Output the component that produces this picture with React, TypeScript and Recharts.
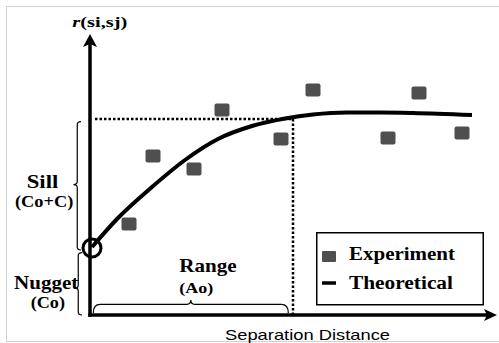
import React from 'react';
import {
  ComposedChart,
  XAxis,
  YAxis,
  Line,
  Scatter,
  ReferenceLine,
  ReferenceDot,
  ReferenceArea,
  Legend,
} from 'recharts';

// theoretical variogram curve (distance, gamma)
const curveDist = [2, 28, 62, 95, 128, 162, 195, 223, 257, 290, 323, 382];
const curveGamma = [68, 97, 128, 155, 176, 189, 196.5, 200.5, 202.5, 202.5, 202, 200];

// experimental variogram points
const expDist = [39, 63, 104, 132, 191, 223, 298, 329, 372];
const expGamma = [91, 159, 146, 205, 176, 225, 177, 222, 182];

// model parameters
const nugget = 67;
const sill = 196;
const range = 203;

// axis arrow tips
const xTip = 407;
const yTip = 281;

const curveData = curveDist.map((x, i) => ({ x, y: curveGamma[i] }));
const expData = expDist.map((x, i) => ({ x, y: expGamma[i] }));

const serif = '"Liberation Serif", "Times New Roman", serif';
const sans = '"Liberation Sans", Arial, sans-serif';
const squareFill = '#4f4f4f';

const square = (p: any) => (
  <rect x={p.cx - 7.5} y={p.cy - 6.5} width={15} height={13} rx={2} fill={squareFill} />
);

const upArrow = (p: any) => (
  <path
    d={`M${p.cx},${p.cy} L${p.cx + 7},${p.cy + 13} L${p.cx},${p.cy + 10} L${p.cx - 7},${p.cy + 13} Z`}
    fill="#000"
  />
);

const rightArrow = (p: any) => (
  <path
    d={`M${p.cx},${p.cy} L${p.cx - 13},${p.cy - 6} L${p.cx - 10},${p.cy} L${p.cx - 13},${p.cy + 6} Z`}
    fill="#000"
  />
);

// vertical curly brace, tip pointing left
const vBrace = (tipAt: number) => (p: any) => {
  const { x, y, width, height } = p;
  const sx = x + width / 2;
  const ex = x + width;
  const ty = y + height * tipAt;
  const r = 3;
  const b = y + height;
  const d =
    `M${ex},${y} Q${sx},${y} ${sx},${y + r} L${sx},${ty - r} Q${sx},${ty} ${x},${ty} ` +
    `Q${sx},${ty} ${sx},${ty + r} L${sx},${b - r} Q${sx},${b} ${ex},${b}`;
  return <path d={d} fill="none" stroke="#000" strokeWidth={1.2} />;
};

// horizontal curly brace, tip pointing up
const hBrace = (tipAt: number) => (p: any) => {
  const { x, y, width, height } = p;
  const sy = y + height * 0.33;
  const tx = x + width * tipAt;
  const b = y + height;
  const r = 7;
  const d =
    `M${x},${b} Q${x},${sy} ${x + r},${sy} L${tx - 4},${sy} Q${tx},${sy} ${tx},${y} ` +
    `Q${tx},${sy} ${tx + 4},${sy} L${x + width - r},${sy} Q${x + width},${sy} ${x + width},${b}`;
  return <path d={d} fill="none" stroke="#000" strokeWidth={1.2} />;
};

const note = (
  key: string,
  x: number,
  y: number,
  content: React.ReactNode,
  fontSize: number,
  width: number,
  bold = true,
  family = serif,
) => (
  <ReferenceDot
    key={key}
    x={x}
    y={y}
    r={0}
    shape={(p: any) => (
      <text
        x={p.cx}
        y={p.cy}
        fontFamily={family}
        fontWeight={bold ? 'bold' : 'normal'}
        fontSize={fontSize}
        fill="#000"
        textLength={width}
        lengthAdjust="spacingAndGlyphs"
      >
        {content}
      </text>
    )}
  />
);

const legendBox = () => (
  <svg width={168} height={74} style={{ display: 'block' }}>
    <rect x={0.75} y={0.75} width={166.5} height={72} fill="#fff" stroke="#000" strokeWidth={1.5} />
    <rect x={6} y={19} width={14} height={11} rx={1} fill={squareFill} />
    <text x={33} y={28} fontFamily={serif} fontWeight="bold" fontSize={18} textLength={106} lengthAdjust="spacingAndGlyphs">
      Experiment
    </text>
    <line x1={6} x2={20} y1={51} y2={51} stroke="#000" strokeWidth={3.5} />
    <text x={33} y={57} fontFamily={serif} fontWeight="bold" fontSize={18} textLength={104} lengthAdjust="spacingAndGlyphs">
      Theoretical
    </text>
  </svg>
);

export default function App() {
  return (
    <div
      style={{
        position: 'absolute',
        left: 0,
        top: 0,
        width: 499,
        height: 343,
        overflow: 'hidden',
        background: '#fff',
      }}
    >
      <div
        style={{
          position: 'absolute',
          left: 6,
          top: 6,
          width: 520,
          height: 334,
          border: '1px solid #d0d0d0',
        }}
      />
      <ComposedChart width={499} height={343} margin={{ top: 0, right: 0, bottom: 0, left: 0 }}>
        <XAxis type="number" dataKey="x" domain={[-90, 409]} allowDataOverflow hide />
        <YAxis type="number" dataKey="y" domain={[-28, 315]} allowDataOverflow hide />

        {/* sill and range guides */}
        <ReferenceLine
          segment={[{ x: 5, y: sill }, { x: range, y: sill }]}
          stroke="#000"
          strokeWidth={2.5}
          strokeDasharray="2.5 2"
        />
        <ReferenceLine
          segment={[{ x: range, y: 0 }, { x: range, y: sill }]}
          stroke="#000"
          strokeWidth={2.5}
          strokeDasharray="2.5 2"
        />

        {/* axes with arrows */}
        <ReferenceLine segment={[{ x: 0, y: -1.75 }, { x: 0, y: yTip - 8 }]} stroke="#000" strokeWidth={3.5} />
        <ReferenceLine segment={[{ x: -1.75, y: 0 }, { x: xTip - 8, y: 0 }]} stroke="#000" strokeWidth={3.5} />
        <ReferenceDot x={0} y={yTip} r={0} shape={upArrow} />
        <ReferenceDot x={xTip} y={0} r={0} shape={rightArrow} />

        {/* braces */}
        <ReferenceArea x1={-16.5} x2={-9} y1={65} y2={193.3} shape={vBrace(0.49)} />
        <ReferenceArea x1={-15.5} x2={-8} y1={0} y2={62.3} shape={vBrace(0.57)} />
        <ReferenceArea x1={3.3} x2={198.3} y1={2} y2={15} shape={hBrace(0.5)} />

        <Line
          data={curveData}
          dataKey="y"
          type="monotone"
          stroke="#000"
          strokeWidth={4}
          dot={false}
          activeDot={false}
          isAnimationActive={false}
        />
        <Scatter data={expData} dataKey="y" shape={square} isAnimationActive={false} />

        <ReferenceDot x={2} y={nugget} r={9} fill="none" stroke="#000" strokeWidth={3} />

        {note('ylab', -17.7, 288.3, (
          <>
            <tspan fontStyle="italic">r</tspan>(si,sj)
          </>
        ), 15, 55)}
        {note('sill', -63.3, 126.7, 'Sill', 19, 31.6)}
        {note('sillc', -75, 108.3, '(Co+C)', 16, 58.3)}
        {note('nug', -76, 25.7, 'Nugget', 19, 64.3)}
        {note('nugc', -59.3, 6.7, '(Co)', 16, 34.3)}
        {note('range', 89.3, 42.7, 'Range', 19, 57.4)}
        {note('rangec', 89.3, 21.7, '(Ao)', 15, 34)}
        {note('xlab', 135, -25, 'Separation Distance', 15, 165, false, sans)}

        <Legend
          layout="horizontal"
          verticalAlign="middle"
          align="center"
          content={legendBox}
          wrapperStyle={{ left: 316, top: 232, width: 168, height: 74 }}
        />
      </ComposedChart>
    </div>
  );
}
